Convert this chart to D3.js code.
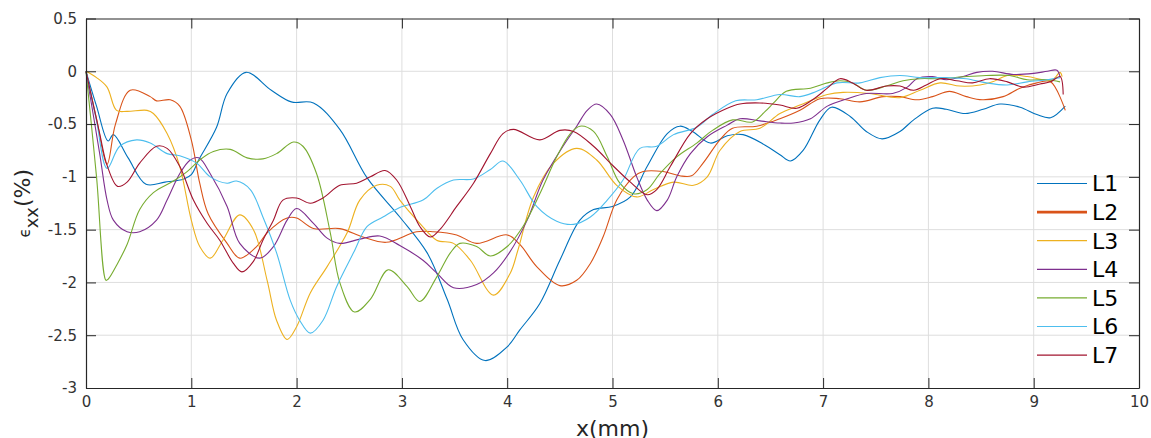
<!DOCTYPE html>
<html>
<head>
<meta charset="utf-8">
<script src="https://cdn.jsdelivr.net/npm/d3@7"></script>
<style>
  html, body { margin: 0; padding: 0; background: #fff; }
  svg { display: block; font-family: "DejaVu Sans", sans-serif; }
</style>
</head>
<body>
<svg id="chart" width="1151" height="438"></svg>
<script>
// ---- data ----
const seriesNames = ["L1", "L2", "L3", "L4", "L5", "L6", "L7"];
const seriesColors = ["#0072BD", "#D95319", "#EDB120", "#7E2F8E", "#77AC30", "#4DBEEE", "#A2142F"];

const xTicks = [0, 1, 2, 3, 4, 5, 6, 7, 8, 9, 10];
const yTicks = [-3, -2.5, -2, -1.5, -1, -0.5, 0, 0.5];
const yTickLabels = ["-3", "-2.5", "-2", "-1.5", "-1", "-0.5", "0", "0.5"];

const L1x = [0, 0.1, 0.21, 0.26, 0.4, 0.57, 0.75, 0.93, 1.0, 1.07, 1.24, 1.34, 1.52, 1.76, 1.95, 2.16, 2.41, 2.67, 2.98, 3.24, 3.43, 3.58, 3.79, 4.0, 4.12, 4.31, 4.5, 4.69, 4.82, 5.0, 5.17, 5.33, 5.52, 5.64, 5.76, 5.93, 6.09, 6.24, 6.45, 6.59, 6.69, 6.81, 6.97, 7.08, 7.26, 7.41, 7.56, 7.73, 7.86, 8.04, 8.17, 8.35, 8.52, 8.68, 8.87, 9.03, 9.16, 9.3];
const L1y = [0, -0.33, -0.66, -0.6, -0.82, -1.07, -1.05, -1.02, -0.98, -0.84, -0.53, -0.21, -0.01, -0.18, -0.29, -0.3, -0.55, -1.01, -1.38, -1.72, -2.16, -2.54, -2.74, -2.61, -2.45, -2.2, -1.79, -1.41, -1.31, -1.28, -1.19, -0.9, -0.59, -0.52, -0.57, -0.68, -0.61, -0.6, -0.7, -0.79, -0.85, -0.75, -0.46, -0.34, -0.43, -0.57, -0.64, -0.57, -0.46, -0.35, -0.36, -0.40, -0.36, -0.31, -0.34, -0.41, -0.44, -0.33];

const L2x = [0, 0.1, 0.2, 0.28, 0.42, 0.61, 0.67, 0.8, 0.89, 1.0, 1.08, 1.16, 1.34, 1.46, 1.62, 1.72, 1.91, 2.0, 2.16, 2.41, 2.63, 2.85, 3.14, 3.3, 3.52, 3.71, 4.0, 4.12, 4.28, 4.5, 4.66, 4.79, 4.91, 5.04, 5.2, 5.29, 5.48, 5.64, 5.75, 5.86, 6.02, 6.14, 6.37, 6.59, 6.78, 6.97, 7.16, 7.35, 7.57, 7.73, 7.89, 8.04, 8.2, 8.36, 8.51, 8.71, 8.87, 9.03, 9.16, 9.3];
const L2y = [0, -0.45, -0.88, -0.5, -0.18, -0.24, -0.28, -0.27, -0.33, -0.65, -1.06, -1.35, -1.63, -1.77, -1.66, -1.53, -1.39, -1.39, -1.49, -1.49, -1.57, -1.62, -1.52, -1.52, -1.55, -1.63, -1.55, -1.64, -1.85, -2.03, -1.98, -1.82, -1.57, -1.22, -1.0, -0.95, -0.95, -0.99, -0.99, -0.87, -0.65, -0.54, -0.52, -0.45, -0.37, -0.26, -0.26, -0.29, -0.24, -0.24, -0.27, -0.24, -0.19, -0.24, -0.27, -0.24, -0.16, -0.11, -0.1, -0.37];

const L3x = [0, 0.1, 0.2, 0.29, 0.39, 0.58, 0.64, 0.77, 0.89, 1.0, 1.08, 1.18, 1.3, 1.46, 1.59, 1.72, 1.81, 1.91, 2.0, 2.13, 2.29, 2.48, 2.6, 2.76, 2.89, 2.98, 3.17, 3.33, 3.49, 3.65, 3.87, 4.03, 4.1, 4.25, 4.44, 4.66, 4.85, 5.04, 5.23, 5.39, 5.58, 5.77, 5.9, 6.02, 6.21, 6.4, 6.59, 6.78, 7.04, 7.19, 7.44, 7.73, 7.92, 8.11, 8.3, 8.49, 8.61, 8.75, 8.94, 9.09, 9.18, 9.25, 9.27];
const L3y = [0, -0.06, -0.15, -0.37, -0.38, -0.37, -0.4, -0.59, -0.9, -1.41, -1.66, -1.77, -1.6, -1.36, -1.5, -1.98, -2.36, -2.54, -2.42, -2.1, -1.85, -1.53, -1.22, -1.08, -1.09, -1.22, -1.44, -1.6, -1.63, -1.79, -2.12, -1.91, -1.7, -1.19, -0.87, -0.73, -0.84, -1.08, -1.19, -1.12, -1.05, -1.08, -1.0, -0.75, -0.57, -0.54, -0.4, -0.32, -0.22, -0.2, -0.21, -0.25, -0.18, -0.11, -0.14, -0.13, -0.1, -0.04, -0.05, -0.08, -0.08, -0.01, -0.05];

const L4x = [0, 0.13, 0.2, 0.26, 0.39, 0.51, 0.67, 0.77, 0.89, 0.99, 1.07, 1.18, 1.34, 1.46, 1.65, 1.78, 1.91, 2.0, 2.16, 2.29, 2.41, 2.6, 2.79, 2.98, 3.2, 3.33, 3.49, 3.71, 3.87, 4.02, 4.19, 4.34, 4.53, 4.66, 4.76, 4.85, 4.98, 5.1, 5.23, 5.33, 5.42, 5.52, 5.61, 5.74, 5.9, 6.09, 6.21, 6.4, 6.59, 6.72, 6.88, 7.04, 7.23, 7.41, 7.66, 7.8, 7.89, 8.04, 8.17, 8.33, 8.46, 8.61, 8.81, 9.0, 9.13, 9.22, 9.25];
const L4y = [0, -0.78, -1.22, -1.41, -1.52, -1.52, -1.41, -1.22, -0.97, -0.84, -0.82, -0.97, -1.28, -1.63, -1.77, -1.66, -1.41, -1.3, -1.44, -1.58, -1.63, -1.59, -1.56, -1.65, -1.79, -1.91, -2.05, -2.02, -1.91, -1.72, -1.41, -1.03, -0.71, -0.52, -0.37, -0.31, -0.41, -0.65, -1.0, -1.22, -1.32, -1.22, -1.0, -0.78, -0.62, -0.51, -0.45, -0.47, -0.49, -0.49, -0.45, -0.33, -0.26, -0.21, -0.21, -0.15, -0.07, -0.05, -0.08, -0.05, -0.01, 0.0, -0.03, -0.02, 0.0, 0.01, -0.05];

const L5x = [0, 0.1, 0.19, 0.21, 0.3, 0.39, 0.51, 0.64, 0.83, 0.96, 1.08, 1.21, 1.37, 1.53, 1.68, 1.81, 1.97, 2.06, 2.19, 2.32, 2.41, 2.55, 2.7, 2.87, 3.05, 3.17, 3.33, 3.46, 3.55, 3.71, 3.84, 4.0, 4.15, 4.31, 4.47, 4.6, 4.69, 4.82, 4.95, 5.07, 5.2, 5.33, 5.45, 5.61, 5.8, 5.95, 6.14, 6.33, 6.45, 6.53, 6.65, 6.88, 7.04, 7.16, 7.28, 7.41, 7.6, 7.76, 7.92, 8.11, 8.36, 8.55, 8.77, 8.94, 9.13, 9.25];
const L5y = [0, -1.0, -1.98, -1.97, -1.82, -1.64, -1.31, -1.15, -1.04, -0.95, -0.84, -0.76, -0.74, -0.82, -0.83, -0.78, -0.67, -0.71, -0.97, -1.53, -2.0, -2.28, -2.16, -1.88, -2.04, -2.18, -1.95, -1.72, -1.63, -1.66, -1.75, -1.66, -1.47, -1.16, -0.81, -0.59, -0.52, -0.57, -0.81, -1.06, -1.16, -1.12, -0.97, -0.81, -0.68, -0.56, -0.46, -0.48, -0.38, -0.3, -0.19, -0.16, -0.11, -0.09, -0.11, -0.18, -0.14, -0.09, -0.07, -0.07, -0.05, -0.04, -0.04, -0.08, -0.08, -0.1];

const L6x = [0, 0.1, 0.2, 0.32, 0.48, 0.61, 0.77, 0.89, 1.05, 1.18, 1.34, 1.43, 1.56, 1.68, 1.81, 1.94, 2.03, 2.13, 2.25, 2.38, 2.54, 2.67, 2.82, 2.98, 3.2, 3.33, 3.49, 3.68, 3.84, 3.96, 4.12, 4.28, 4.47, 4.63, 4.79, 4.95, 5.1, 5.26, 5.42, 5.58, 5.8, 5.95, 6.17, 6.37, 6.59, 6.78, 6.94, 7.13, 7.35, 7.54, 7.73, 7.92, 8.17, 8.36, 8.55, 8.75, 8.94, 9.13, 9.25];
const L6y = [0, -0.47, -0.92, -0.71, -0.65, -0.68, -0.78, -0.8, -0.87, -1.0, -1.06, -1.04, -1.12, -1.38, -1.72, -2.17, -2.36, -2.48, -2.36, -2.04, -1.72, -1.47, -1.38, -1.29, -1.22, -1.11, -1.03, -1.02, -0.93, -0.85, -1.03, -1.28, -1.42, -1.45, -1.38, -1.22, -1.03, -0.73, -0.71, -0.6, -0.53, -0.41, -0.28, -0.27, -0.22, -0.24, -0.19, -0.11, -0.11, -0.06, -0.04, -0.06, -0.06, -0.07, -0.11, -0.13, -0.1, -0.08, -0.06];

const L7x = [0, 0.13, 0.2, 0.3, 0.39, 0.51, 0.67, 0.77, 0.89, 1.02, 1.15, 1.27, 1.4, 1.48, 1.59, 1.68, 1.78, 1.87, 2.0, 2.13, 2.25, 2.41, 2.57, 2.7, 2.84, 2.95, 3.08, 3.17, 3.27, 3.36, 3.52, 3.68, 3.84, 3.96, 4.06, 4.31, 4.5, 4.63, 4.82, 5.0, 5.17, 5.33, 5.42, 5.55, 5.74, 5.9, 6.09, 6.21, 6.4, 6.59, 6.75, 6.9, 7.04, 7.16, 7.28, 7.41, 7.6, 7.73, 7.86, 7.98, 8.11, 8.27, 8.42, 8.58, 8.75, 8.9, 9.06, 9.16, 9.25, 9.28];
const L7y = [0, -0.59, -0.89, -1.09, -1.05, -0.87, -0.71, -0.73, -0.9, -1.22, -1.44, -1.6, -1.82, -1.9, -1.8, -1.6, -1.41, -1.22, -1.2, -1.25, -1.2, -1.08, -1.06, -1.0, -0.94, -1.03, -1.28, -1.47, -1.57, -1.5, -1.28, -1.06, -0.78, -0.59, -0.55, -0.65, -0.56, -0.57, -0.71, -0.89, -1.05, -1.17, -1.12, -0.9, -0.59, -0.45, -0.35, -0.31, -0.3, -0.32, -0.35, -0.27, -0.16, -0.07, -0.11, -0.18, -0.14, -0.14, -0.18, -0.13, -0.07, -0.09, -0.11, -0.07, -0.1, -0.15, -0.12, -0.1, -0.05, -0.22];

const seriesX = [L1x, L2x, L3x, L4x, L5x, L6x, L7x];
const seriesY = [L1y, L2y, L3y, L4y, L5y, L6y, L7y];

// ---- layout ----
const svg = d3.select("#chart");
const pLeft = 86, pRight = 1139, pTop = 18.5, pBottom = 388;
const x = d3.scaleLinear().domain([0, 10]).range([pLeft, pRight]);
const y = d3.scaleLinear().domain([-3, 0.5]).range([pBottom, pTop]);
const axisColor = "#262626";
const tickLen = 10;

// grid
const grid = svg.append("g");
grid.selectAll("line.gx").data(xTicks.slice(1, -1)).join("line")
  .attr("x1", d => x(d)).attr("x2", d => x(d)).attr("y1", pTop).attr("y2", pBottom)
  .attr("stroke", "#dedede").attr("stroke-width", 1);
grid.selectAll("line.gy").data(yTicks.slice(1, -1)).join("line")
  .attr("y1", d => y(d)).attr("y2", d => y(d)).attr("x1", pLeft).attr("x2", pRight)
  .attr("stroke", "#dedede").attr("stroke-width", 1);

// data lines
const line = d3.line().curve(d3.curveCatmullRom.alpha(0.5)).x(d => x(d[0])).y(d => y(d[1]));
seriesNames.forEach((name, i) => {
  const pts = seriesX[i].map((v, j) => [v, seriesY[i][j]]);
  svg.append("path").datum(pts)
    .attr("d", line).attr("fill", "none")
    .attr("stroke", seriesColors[i]).attr("stroke-width", 1.1)
    .attr("stroke-linejoin", "round");
});

// axes
const fmtY = d => yTickLabels[yTicks.indexOf(d)];
const axB = svg.append("g").attr("transform", `translate(0,${pBottom})`)
  .call(d3.axisBottom(x).tickValues(xTicks).tickFormat(d3.format("d")).tickSizeInner(-tickLen).tickSizeOuter(0).tickPadding(8));
const axT = svg.append("g").attr("transform", `translate(0,${pTop})`)
  .call(d3.axisTop(x).tickValues(xTicks).tickFormat("").tickSizeInner(-tickLen).tickSizeOuter(0));
const axL = svg.append("g").attr("transform", `translate(${pLeft},0)`)
  .call(d3.axisLeft(y).tickValues(yTicks).tickFormat(fmtY).tickSizeInner(-tickLen).tickSizeOuter(0).tickPadding(9));
const axR = svg.append("g").attr("transform", `translate(${pRight},0)`)
  .call(d3.axisRight(y).tickValues(yTicks).tickFormat("").tickSizeInner(-tickLen).tickSizeOuter(0));
[axB, axT, axL, axR].forEach(a => {
  a.select(".domain").attr("stroke", axisColor).attr("stroke-width", 1.2);
  a.selectAll(".tick line").attr("stroke", axisColor).attr("stroke-width", 1);
  a.selectAll(".tick text").attr("fill", "#333").attr("font-size", 15).attr("font-family", "DejaVu Sans");
});

// axis labels
svg.append("text").attr("x", (pLeft + pRight) / 2).attr("y", 436)
  .attr("text-anchor", "middle").attr("font-size", 22).attr("fill", axisColor)
  .text("x(mm)");

const yl = svg.append("text").attr("transform", `translate(30,${(pTop + pBottom) / 2}) rotate(-90)`)
  .attr("text-anchor", "middle").attr("font-size", 22).attr("fill", axisColor);
yl.append("tspan").text("ϵ").attr("font-size", 15);
yl.append("tspan").text("xx").attr("font-size", 18).attr("dy", 8);
yl.append("tspan").text("(%)").attr("dy", -8);

// legend
const legY0 = 183.5, legStep = 28.6;
seriesNames.forEach((name, i) => {
  const gy = legY0 + i * legStep;
  svg.append("line").attr("x1", 1037).attr("x2", 1087).attr("y1", gy).attr("y2", gy)
    .attr("stroke", seriesColors[i]).attr("stroke-width", i === 1 ? 2.6 : 1.2);
  svg.append("text").attr("x", 1092).attr("y", gy).attr("dy", "0.36em")
    .attr("font-size", 22).attr("fill", "#000").text(name);
});
</script>
</body>
</html>
